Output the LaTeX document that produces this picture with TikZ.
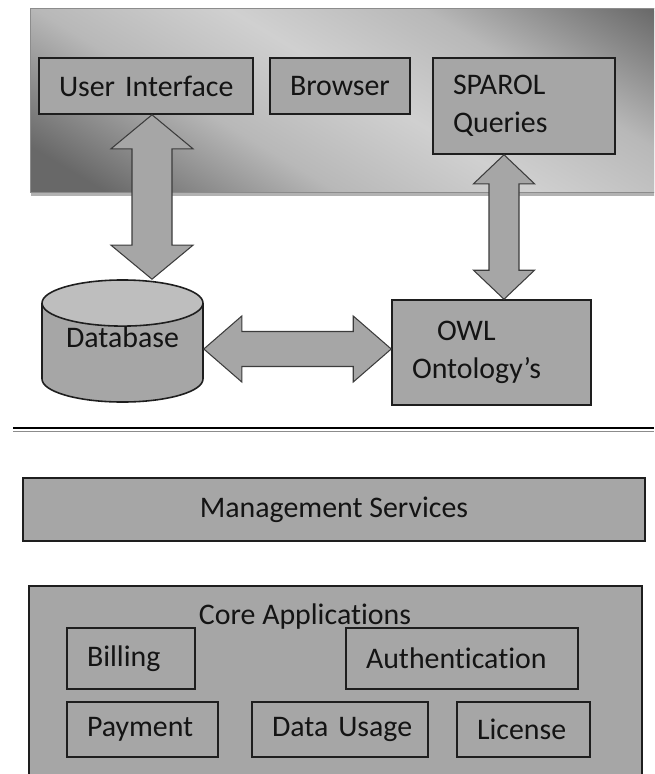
\documentclass[tikz,border=0pt]{standalone}
\usepackage{fontspec}
\setmainfont{Carlito}[Ligatures=NoCommon]
\usetikzlibrary{calc,shapes.geometric}
\definecolor{boxgray}{HTML}{A6A6A6}
\definecolor{capgray}{HTML}{BEBEBE}
\definecolor{edgegray}{HTML}{1E1E1E}
\definecolor{arrowgray}{HTML}{3C3C3C}
\definecolor{paneldark}{HTML}{686868}
\definecolor{panelmid}{HTML}{B8B8B8}
\definecolor{panellight}{HTML}{D0D0D0}
\definecolor{inkgray}{HTML}{141414}
% dark - light - dark band for the top panel
\pgfdeclarehorizontalshading{panelshade}{16cm}{color(0cm)=(paneldark); color(3.6cm)=(paneldark);
  color(6cm)=(panelmid); color(8cm)=(panellight); color(10cm)=(panelmid);
  color(12.4cm)=(paneldark); color(16cm)=(paneldark)}
\tikzset{block/.style={
    draw=edgegray, fill=boxgray, line width=0.9pt,
    inner xsep=0.4cm, inner ysep=0pt,
    text width=#1, align=left, text=inkgray,
    execute at begin node={\hyphenpenalty=10000}
  },
  layer/.style={
    draw=edgegray, fill=boxgray, line width=0.9pt, text=inkgray
  },
  fat/.style={
    draw=arrowgray, fill=boxgray, line width=0.6pt, line join=miter
  }
}
% fat double arrows: tip, tip, head length, head half width, shaft half width
\newcommand{\vfat}[5]{%
  \draw[fat] (#1) -- ++(-#4,#3) -- ++({#4-#5},0) -- ($(#2)+(-#5,-#3)$) -- ++({#5-#4},0) -- (#2)
    -- ++(#4,-#3) -- ++({#5-#4},0) -- ($(#1)+(#5,#3)$) -- ++({#4-#5},0) -- cycle;}
\newcommand{\hfat}[5]{%
  \draw[fat] (#1) -- ++(#3,-#4) -- ++(0,{#4-#5}) -- ($(#2)+(-#3,-#5)$) -- ++(0,{#5-#4}) -- (#2)
    -- ++(-#3,#4) -- ++(0,{#5-#4}) -- ($(#1)+(#3,#5)$) -- ++(0,{#4-#5}) -- cycle;}

\begin{document}
\begin{tikzpicture}[x=0.02cm,y=-0.02cm,font=\fontsize{17}{21.6}\selectfont]
  \useasboundingbox (0,0) rectangle (654,774);
  \clip (0,0) rectangle (654,774);

  % -- Shaded panel behind the front end.
  \fill[black!30] (31,11) rectangle (760,196);
  \begin{scope}
    \clip (30,8) rectangle (760,192);
    \node[rotate=59, inner sep=0pt] (panelfill) at (380,100) {\pgfuseshading{panelshade}};
  \end{scope}
  \draw[black!45, line width=0.5pt] (30,8) rectangle (760,192);

  % -- Front end blocks.
  \node[block=3.48cm, minimum height=1.12cm] (ui) at (146,86) {User~Interface};
  \node[block=2.0cm, minimum height=1.12cm] (br) at (340,86) {Browser};
  \node[block=2.84cm, minimum height=1.92cm] (sq) at (524,106) {SPAROL\\Queries};

  % -- Database and ontology.
  \node[cylinder, shape border rotate=90, aspect=0.37, draw=edgegray, line width=0.9pt,
    cylinder uses custom fill, cylinder body fill=boxgray, cylinder end fill=capgray,
    minimum width=3.22cm, minimum height=2.4cm, inner ysep=0pt, text=inkgray, anchor=shape center]
    (db) at (122.5,341) {\raisebox{0.8cm}{Database}};
  \node[block=3.18cm, minimum height=2.1cm] (owl) at (491.5,352.5) {\hspace*{0.5cm}OWL\\Ontology’s};

  % -- We draw the double arrows between the blocks.
  \coordinate (uitip) at ([xshift=0.12cm]ui.south);
  \coordinate (dbtop) at (uitip |- db.north);
  \coordinate (sqtip) at ([xshift=-0.4cm]sq.south);
  \coordinate (owltop) at (sqtip |- owl.north);
  \coordinate (dbside) at ([yshift=-0.16cm]db.shape center -| db.east);
  \coordinate (owlleft) at (dbside -| owl.west);
  \vfat{uitip}{dbtop}{34}{41}{20}
  \vfat{sqtip}{owltop}{29}{30.5}{15}
  \hfat{dbside}{owlleft}{38}{33}{17.5}

  % -- Separator.
  \draw[line width=0.8pt, black] (13,428) -- (654,428);
  \draw[line width=0.9pt, black!45] (13,431.5) -- (654,431.5);

  % -- Management and core application layers.
  \node[layer, minimum width=12.44cm, minimum height=1.26cm] (ms) at (334,509.5) {Management Services};
  \node[layer, minimum width=12.26cm, minimum height=4.4cm] (core) at (335.5,696) {};
  \node[text=inkgray] (coretitle) at (305,617) {Core Applications};
  \node[block=1.76cm, minimum height=1.22cm] (bill) at (131,658.5) {Billing};
  \node[block=3.84cm, minimum height=1.22cm] (auth) at (462,658.5) {Authentication};
  \node[block=2.22cm, minimum height=1.1cm] (pay) at (142.5,729.5) {Payment};
  \node[block=2.72cm, minimum height=1.1cm] (usage) at (340,729.5) {Data~Usage};
  \node[block=1.86cm, minimum height=1.1cm] (lic) at (523.5,729.5) {License};
\end{tikzpicture}
\end{document}
